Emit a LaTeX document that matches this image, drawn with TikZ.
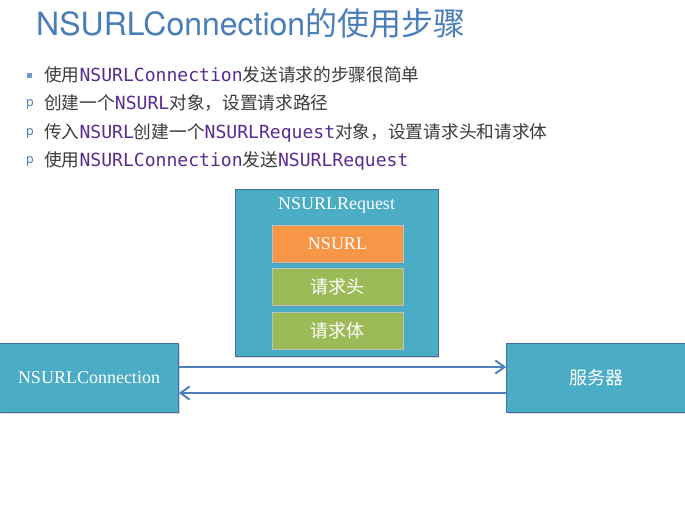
\documentclass[tikz,border=0pt]{standalone}
\usepackage{fontspec}
\setmainfont{Liberation Serif}
\newfontfamily\cjkfont{Noto Sans CJK SC}
\newfontfamily\titlefont{TeX Gyre Heros}
\newfontfamily\codefont[Scale=1.02]{DejaVu Sans Mono}
\usetikzlibrary{positioning,arrows.meta,shadows}
\definecolor{boxc}{HTML}{4BACC6}
\definecolor{urlc}{HTML}{F79646}
\definecolor{partc}{HTML}{9BBB59}
\definecolor{linec}{HTML}{4F81BD}
\definecolor{titlec}{HTML}{4A7EBB}
\definecolor{codec}{HTML}{5B2C8F}
\definecolor{txt}{HTML}{3C3C3C}
\newcommand{\code}[1]{{\codefont\color{codec}#1}}
\tikzset{
  >={Straight Barb[length=3.2mm,width=4.6mm]},
  item/.style={anchor=base west, inner sep=0pt, font=\fontsize{17.7}{21}\cjkfont, text=txt},
  dot/.style={fill=linec!80, minimum size=5pt, inner sep=0pt},
  pmark/.style={anchor=base, inner sep=0pt, font=\fontsize{13}{15}\titlefont, text=linec},
  shade/.style={drop shadow={shadow xshift=1pt, shadow yshift=-1.5pt, opacity=0.3}},
  box/.style={shade, draw=linec!85!black, line width=0.6pt, fill=boxc, text=white,
              inner sep=0pt, align=center, font=\fontsize{18}{21}\selectfont},
  part/.style={shade, draw=black!25, line width=0.4pt, inner sep=0pt, text=white,
               minimum width=131pt, minimum height=37pt, font=\fontsize{18}{21}\selectfont},
  link/.style={->, line width=2pt, draw=linec},
}
\begin{document}
\begin{tikzpicture}[x=1pt,y=-1pt]
  \fill[white] (0,0) rectangle (685,531);
  \useasboundingbox (0,0) rectangle (685,531);
  % title and steps
  \node[anchor=base west, inner sep=0pt, font=\fontsize{32}{36}\titlefont, text=titlec] (title) at (36,35)
    {NSURLConnection{\cjkfont 的使用步骤}};
  \node[dot] (b1) at (29.5,75) {};
  \node[item] (s1) at (44,81) {使用\code{NSURLConnection}发送请求的步骤很简单};
  \node[pmark] (b2) at (30,106) {p};
  \node[item] (s2) at (44,109) {创建一个\code{NSURL}对象，设置请求路径};
  \node[pmark] (b3) at (30,135) {p};
  \node[item] (s3) at (44,138) {传入\code{NSURL}创建一个\code{NSURLRequest}对象，设置请求头和请求体};
  \node[pmark] (b4) at (30,163) {p};
  \node[item] (s4) at (44,166) {使用\code{NSURLConnection}发送\code{NSURLRequest}};
  % request
  \node[box, minimum width=203pt, minimum height=167pt] (req) at (336.5,272.5) {};
  \node[text=white, font=\fontsize{18}{21}\selectfont] (reqlbl) at (336.5,205) {NSURLRequest};
  \node[part, fill=urlc] (url) at (337.5,243.5) {NSURL};
  \node[part, fill=partc, below=6pt of url] (head) {\cjkfont 请求头};
  \node[part, fill=partc, below=6pt of head] (body) {\cjkfont 请求体};
  % connection and server
  \node[box, minimum width=179pt, minimum height=69pt] (conn) at (89,377.5) {NSURLConnection};
  \node[box, minimum width=179pt, minimum height=69pt] (srv) at (596,377.5) {\cjkfont 服务器};
  \draw[link] ([yshift=10.5pt]conn.east) -- ([yshift=10.5pt]conn.east -| srv.west);
  \draw[link] ([yshift=-15.5pt]srv.west) -- ([yshift=-15.5pt]srv.west -| conn.east);
\end{tikzpicture}
\end{document}
